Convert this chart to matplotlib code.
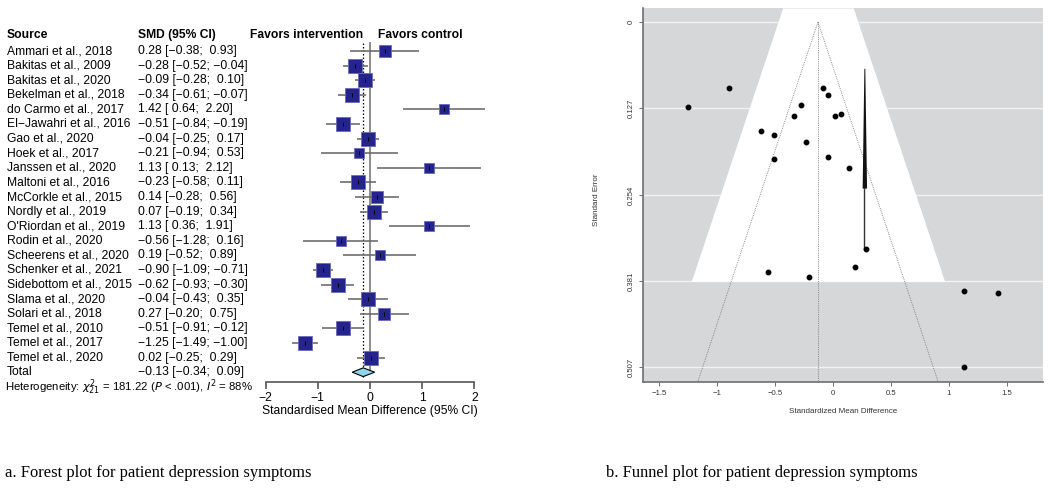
import numpy as np
import matplotlib
matplotlib.use("Agg")
import matplotlib.pyplot as plt
from matplotlib.transforms import blended_transform_factory

plt.rcParams['font.family'] = ['Liberation Sans', 'DejaVu Sans']

# ---- data ----
studies = ["Ammari et al., 2018", "Bakitas et al., 2009", "Bakitas et al., 2020",
           "Bekelman et al., 2018", "do Carmo et al., 2017", "El\u2212Jawahri et al., 2016",
           "Gao et al., 2020", "Hoek et al., 2017", "Janssen et al., 2020",
           "Maltoni et al., 2016", "McCorkle et al., 2015", "Nordly et al., 2019",
           "O'Riordan et al., 2019", "Rodin et al., 2020", "Scheerens et al., 2020",
           "Schenker et al., 2021", "Sidebottom et al., 2015", "Slama et al., 2020",
           "Solari et al., 2018", "Temel et al., 2010", "Temel et al., 2017",
           "Temel et al., 2020"]
smd = np.array([0.28, -0.28, -0.09, -0.34, 1.42, -0.51, -0.04, -0.21, 1.13, -0.23, 0.14,
                0.07, 1.13, -0.56, 0.19, -0.90, -0.62, -0.04, 0.27, -0.51, -1.25, 0.02])
lower = np.array([-0.38, -0.52, -0.28, -0.61, 0.64, -0.84, -0.25, -0.94, 0.13, -0.58, -0.28,
                  -0.19, 0.36, -1.28, -0.52, -1.09, -0.93, -0.43, -0.20, -0.91, -1.49, -0.25])
upper = np.array([0.93, -0.04, 0.10, -0.07, 2.20, -0.19, 0.17, 0.53, 2.12, 0.11, 0.56,
                  0.34, 1.91, 0.16, 0.89, -0.71, -0.30, 0.35, 0.75, -0.12, -1.00, 0.29])
total_smd, total_lo, total_hi = -0.13, -0.34, 0.09
tau2 = 0.17
het_text = r"Heterogeneity: $\chi^2_{21}$ = 181.22 ($P$ < .001), $I^2$ = 88%"

# funnel plot: study not drawn as a point, and the odd vertical stroke
funnel_skip = "Solari et al., 2018"
stroke_x, stroke_top, stroke_mid = 0.27, 0.068, 0.244
se_ticks = [0, 0.127, 0.254, 0.381, 0.507]
band_offset, band_se_max = 0.345, 0.381

se = (upper - lower) / 3.92
weight = 1 / (se ** 2 + tau2)

W, H = 1050, 488
fig = plt.figure(figsize=(W / 100, H / 100), dpi=100)


def fx(px):
    return px / W


def fy(py):
    return 1 - py / H


# ---------------- forest plot ----------------
row0, dy = 51, 14.6
ytop = (30 - row0) / dy
ybot = (382 - row0) / dy
ax = fig.add_axes([fx(239.4), fy(382), fx(500.6) - fx(239.4), fy(30) - fy(382)])
ax.set_xlim(-2.5, 2.5)
ax.set_ylim(ybot, ytop)
for s in ['top', 'right', 'left']:
    ax.spines[s].set_visible(False)
ax.spines['bottom'].set_bounds(-2, 2)
ax.spines['bottom'].set_color('#555555')
ax.spines['bottom'].set_linewidth(1.2)
ax.set_yticks([])
ax.set_xticks([-2, -1, 0, 1, 2])
ax.set_xticklabels(['\u22122', '\u22121', '0', '1', '2'])
ax.tick_params(axis='x', length=5, width=1.2, color='#555555', labelsize=8.7, pad=2)
ax.set_xlabel('Standardised Mean Difference (95% CI)', fontsize=8.7, labelpad=1)

rows = np.arange(len(studies))
ax.plot([0, 0], [-0.55, 21.85], color='#8c8c8c', lw=1.4, zorder=1)
ax.plot([total_smd, total_smd], [-0.55, 22.4], color='black', lw=0.9, ls=(0, (1.2, 1.6)), zorder=1)
ax.hlines(rows, lower, upper, color='#6e6e6e', lw=1.2, zorder=2, clip_on=False)
box_pt = 10.2 * np.sqrt(weight / weight.max())
for r, m, b in zip(rows, smd, box_pt):
    ax.plot(m, r, marker='s', ms=b, mfc='#24248c', mec='#6a6ab8', mew=0.6, zorder=3,
            clip_on=False)
    ax.plot(m, r, marker='|', ms=3, mec='black', mew=0.7, zorder=4, clip_on=False)
tr = len(studies)
ax.fill([total_lo, total_smd, total_hi, total_smd], [tr, tr - 0.3, tr, tr + 0.3],
        facecolor='#8ed6ee', edgecolor='black', lw=0.8, zorder=3)

tt = blended_transform_factory(fig.transFigure, ax.transData)
fs = 8.7
ax.text(fx(7), -1.1, 'Source', transform=tt, fontsize=fs, fontweight='bold', va='center')
ax.text(fx(138), -1.1, 'SMD (95% CI)', transform=tt, fontsize=fs, fontweight='bold', va='center')
ax.text(fx(250), -1.1, 'Favors intervention', transform=tt, fontsize=fs, fontweight='bold',
        va='center')
ax.text(fx(378), -1.1, 'Favors control', transform=tt, fontsize=fs, fontweight='bold', va='center')


def fmt(v):
    s = f"{abs(v):.2f}"
    return ("\u2212" + s) if v < 0 else s


def fmt_ci(v):
    s = fmt(v)
    return s if v < 0 else " " + s


for r, name, m, lo, hi in zip(rows, studies, smd, lower, upper):
    ax.text(fx(7), r, name, transform=tt, fontsize=fs, va='center')
    ax.text(fx(138), r, f"{fmt(m)} [{fmt_ci(lo)}; {fmt_ci(hi)}]", transform=tt, fontsize=fs,
            va='center')
ax.text(fx(7), tr, 'Total', transform=tt, fontsize=fs, va='center')
ax.text(fx(138), tr, f"{fmt(total_smd)} [{fmt_ci(total_lo)}; {fmt_ci(total_hi)}]",
        transform=tt, fontsize=fs, va='center')
ax.text(fx(5), tr + 1.0, het_text, transform=tt, fontsize=8.2, va='center')

# ---------------- funnel plot ----------------
fa = fig.add_axes([fx(643), fy(382), fx(1043) - fx(643), fy(8) - fy(382)])
fa.set_facecolor('#d6d7d9')
fa.set_xlim(-1.638, 1.81)
fa.set_ylim(0.529, -0.0206)
for s in ['top', 'right']:
    fa.spines[s].set_visible(False)
for s in ['left', 'bottom']:
    fa.spines[s].set_color('#6e6e6e')
    fa.spines[s].set_linewidth(1.2)

fa.set_yticks(se_ticks)
fa.set_yticklabels(['0', '0.127', '0.254', '0.381', '0.507'], rotation=90, va='center')
fa.set_xticks([-1.5, -1, -0.5, 0, 0.5, 1, 1.5])
fa.set_xticklabels(['\u22121.5', '\u22121', '\u22120.5', '0', '0.5', '1', '1.5'])
fa.tick_params(labelsize=5.6, length=3, width=0.6, color='#555555', labelcolor='#333333', pad=3)
for t in se_ticks:
    fa.axhline(t, color='#f2f2f2', lw=1.0, zorder=0.5)

se_band = np.array([-0.0206, band_se_max])
fa.fill_betweenx(se_band, total_smd - band_offset - 1.96 * se_band,
                 total_smd + band_offset + 1.96 * se_band, color='white', lw=0, zorder=1)

se_end = 0.529
fa.plot([total_smd, total_smd], [0, se_end], color='#777777', lw=0.6, ls=(0, (1, 1.2)), zorder=2)
fa.plot([total_smd, total_smd - 1.96 * se_end], [0, se_end], color='#777777', lw=0.6,
        ls=(0, (1, 1.2)), zorder=2)
fa.plot([total_smd, total_smd + 1.96 * se_end], [0, se_end], color='#777777', lw=0.6,
        ls=(0, (1, 1.2)), zorder=2)

keep = np.array([n != funnel_skip for n in studies])
fa.plot(smd[keep], se[keep], 'o', color='black', ms=3.2, zorder=4, clip_on=False)

# tapering stroke
fa.fill_betweenx([stroke_top, stroke_mid], [stroke_x - 0.004, stroke_x - 0.019],
                 [stroke_x + 0.004, stroke_x + 0.019], color='#111111', lw=0, zorder=3)
fa.plot([stroke_x, stroke_x], [stroke_mid, se[0]], color='#333333', lw=1.0, zorder=3)

fa.set_xlabel('Standardized Mean Difference', fontsize=5.8, color='#333333', labelpad=8)
fig.text(fx(597), fy(200), 'Standard Error', rotation=90, fontsize=5.8, color='#333333',
         ha='center', va='center')

# ---------------- captions ----------------
fig.text(fx(5), fy(473), 'a. Forest plot for patient depression symptoms',
         family='Liberation Serif', fontsize=11.9, va='center')
fig.text(fx(606), fy(473), 'b. Funnel plot for patient depression symptoms',
         family='Liberation Serif', fontsize=11.9, va='center')

fig.savefig('out.png', dpi=100)
